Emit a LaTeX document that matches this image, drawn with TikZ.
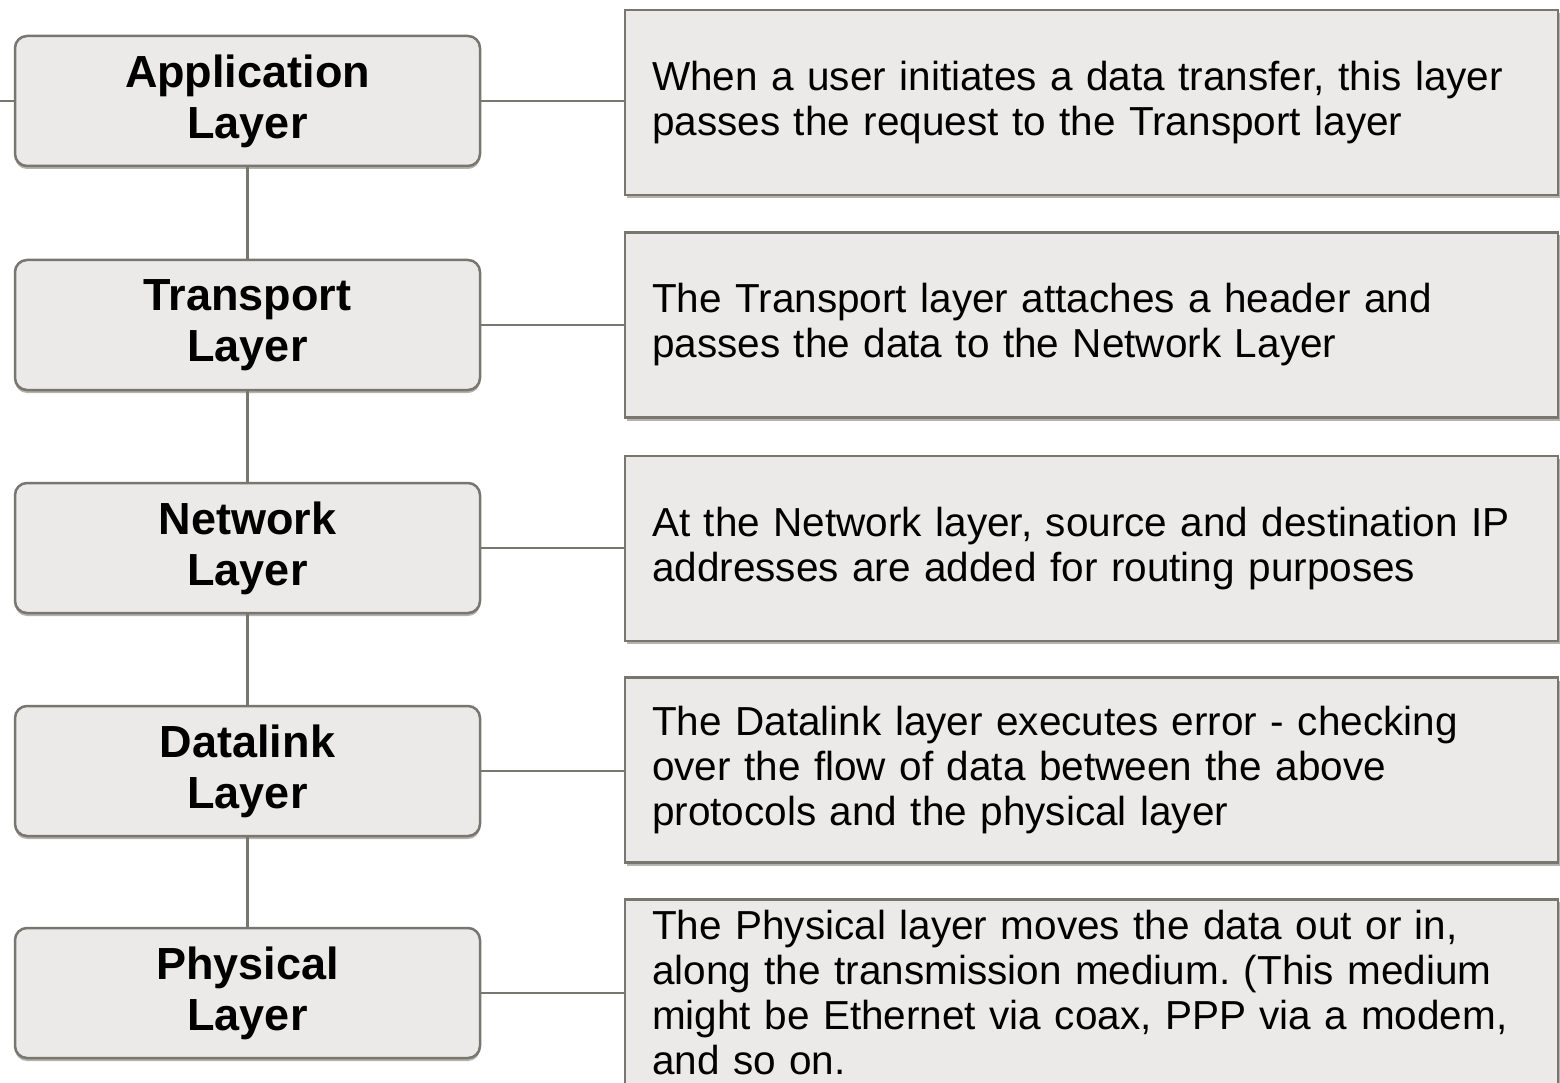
\documentclass[tikz,border=0pt]{standalone}
\usepackage{fontspec}
\setmainfont{Liberation Sans}
\usetikzlibrary{shadows}
\definecolor{fond}{HTML}{EBEAE8}
\definecolor{bord}{HTML}{77776F}
\definecolor{ombre}{HTML}{B4B3AD}
\frenchspacing
\begin{document}
\begin{tikzpicture}[x=1pt,y=-1pt]

% définition des styles
\tikzstyle{couche}=[rectangle,rounded corners=12pt,draw=bord,line width=2.5pt,fill=fond,
  minimum width=465pt,minimum height=130pt,align=center,
  font=\fontsize{45}{51}\selectfont\bfseries,
  drop shadow={shadow xshift=0pt,shadow yshift=-3pt,fill=ombre,opacity=1}]
\tikzstyle{texte}=[rectangle,draw=bord,line width=2.5pt,fill=fond,
  text width=879pt,inner xsep=27pt,inner ysep=15pt,minimum height=185pt,align=left,
  font=\fontsize{40.5}{45}\selectfont,
  drop shadow={shadow xshift=2pt,shadow yshift=-3pt,fill=ombre,opacity=1}]
\tikzstyle{trait}=[-,draw=bord,line width=2.5pt]

\clip (0,0) rectangle (1560,1083);
\fill[white] (0,0) rectangle (1560,1083);

% les couches
\node [couche] (app) at (247.5,101) {Application\\Layer};
\node [couche] (trans) at (247.5,325) {Transport\\Layer};
\node [couche] (net) at (247.5,548) {Network\\Layer};
\node [couche] (dl) at (247.5,771) {Datalink\\Layer};
\node [couche] (phy) at (247.5,993) {Physical\\Layer};
\coordinate (entree) at (0,101);

% les descriptions
\node [texte] (dapp) at (1091.5,102.5) {When a user initiates a data transfer, this layer\\passes the request to the Transport layer};
\node [texte] (dtrans) at (1091.5,325) {The Transport layer attaches a header and\\passes the data to the Network Layer};
\node [texte] (dnet) at (1091.5,548.5) {At the Network layer, source and destination IP\\addresses are added for routing purposes};
\node [texte] (ddl) at (1091.5,770) {The Datalink layer executes error - checking\\over the flow of data between the above\\protocols and the physical layer};
\node [texte,anchor=north,inner ysep=11pt] (dphy) at (1091.5,898) {The Physical layer moves the data out or in,\\along the transmission medium. (This medium\\might be Ethernet via coax, PPP via a modem,\\and so on.};

% les traits
\draw[trait] (entree) -- (app.west);
\draw[trait] (app) -- (trans);
\draw[trait] (trans) -- (net);
\draw[trait] (net) -- (dl);
\draw[trait] (dl) -- (phy);
\draw[trait] (app.east) -- (app.east -| dapp.west);
\draw[trait] (trans.east) -- (trans.east -| dtrans.west);
\draw[trait] (net.east) -- (net.east -| dnet.west);
\draw[trait] (dl.east) -- (dl.east -| ddl.west);
\draw[trait] (phy.east) -- (phy.east -| dphy.west);

\end{tikzpicture}
\end{document}
